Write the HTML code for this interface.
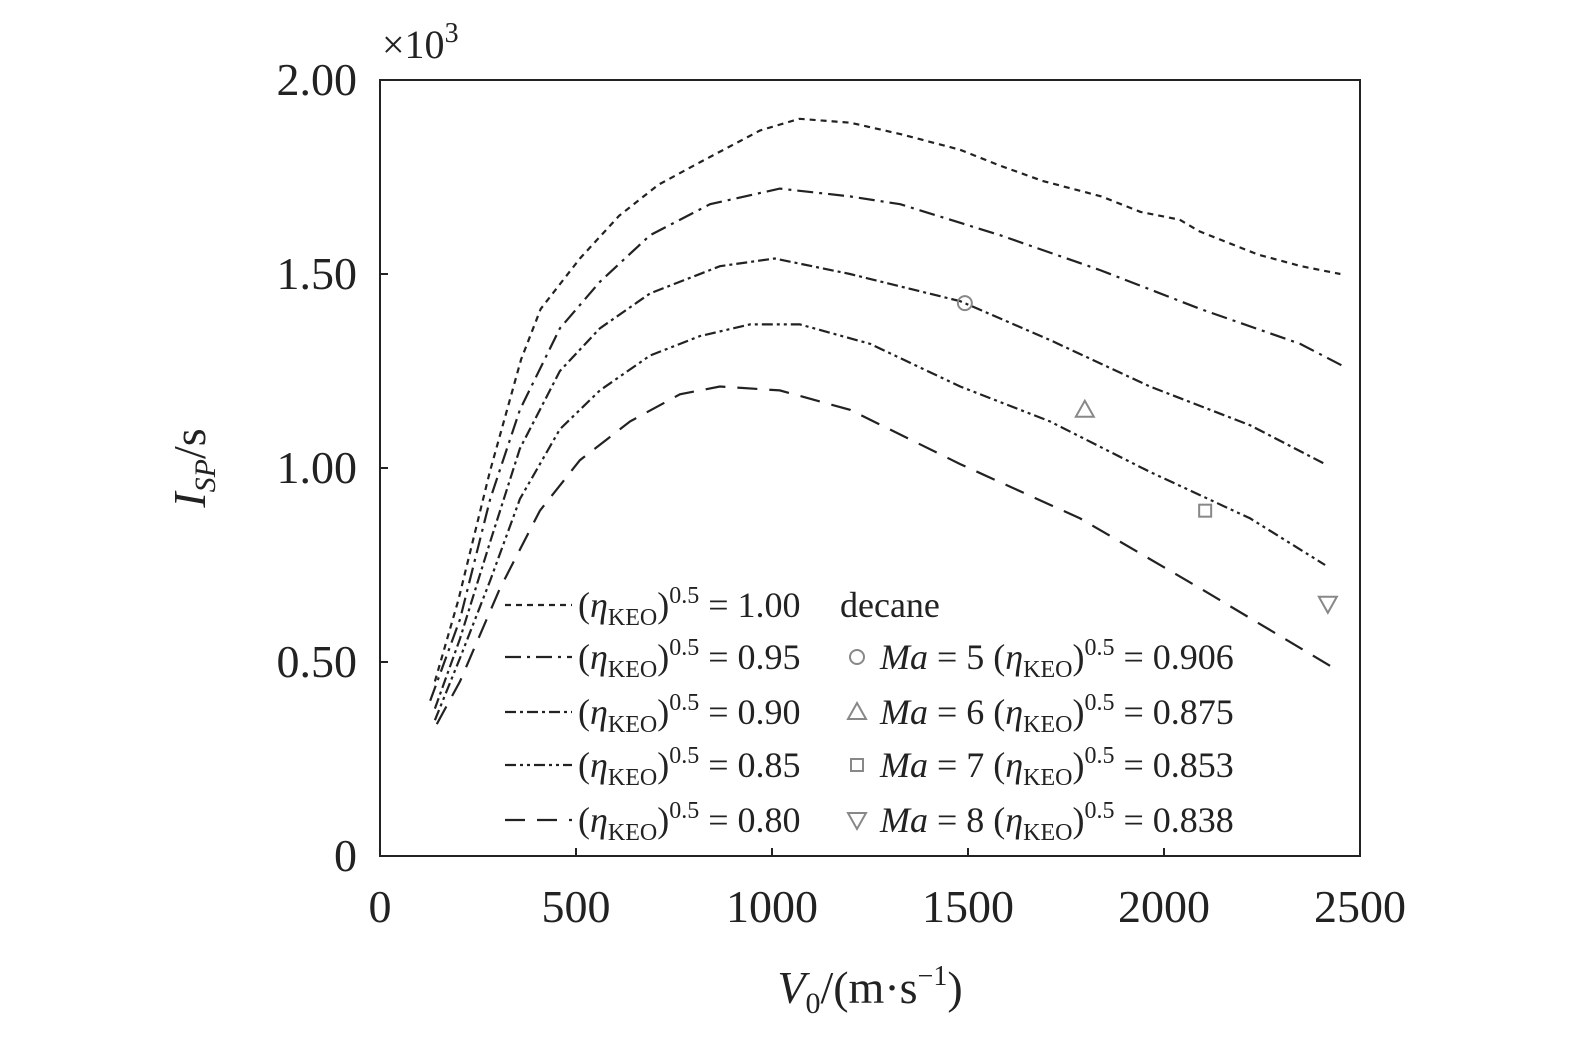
<!DOCTYPE html>
<html><head><meta charset="utf-8"><style>
html,body{margin:0;padding:0;background:#fff;}
svg{display:block;font-family:"Liberation Serif",serif;}
</style></head><body>
<svg id="chart" width="1575" height="1038" viewBox="0 0 1575 1038">
<rect x="380" y="80" width="980" height="776" fill="none" stroke="#222" stroke-width="2"/>
<g id="axes"></g>
<g id="series"></g>
<g id="markers"></g>
<text x="382" y="58" font-size="40" fill="#222">×10<tspan font-size="28" dy="-16">3</tspan></text>
<text transform="translate(205,468) rotate(-90)" text-anchor="middle" font-size="46" fill="#222"><tspan font-style="italic">I</tspan><tspan font-style="italic" font-size="30" dy="10">SP</tspan><tspan dy="-10">/s</tspan></text>
<text x="870" y="1003" text-anchor="middle" font-size="46" fill="#222"><tspan font-style="italic">V</tspan><tspan font-size="30" dy="10">0</tspan><tspan dy="-10">/(m·s</tspan><tspan font-size="28" dy="-18">−1</tspan><tspan dy="18">)</tspan></text>
<g id="legend"></g>
</svg>
<script>
const xTicks=[0,500,1000,1500,2000,2500];
const yTicks=[0,0.5,1.0,1.5,2.0];
const yTickLabels=["0","0.50","1.00","1.50","2.00"];
const c100x=[140,200,280,360,410,510,610,710,820,970,1070,1200,1330,1480,1580,1690,1840,1940,2040,2090,2240,2350,2450];
const c100y=[0.45,0.66,0.99,1.28,1.41,1.54,1.65,1.73,1.79,1.87,1.90,1.89,1.86,1.82,1.78,1.74,1.70,1.66,1.64,1.61,1.55,1.52,1.50];
const c095x=[128,204,281,357,459,561,689,842,1020,1199,1327,1582,1837,2092,2347,2462];
const c095y=[0.40,0.61,0.92,1.15,1.36,1.48,1.60,1.68,1.72,1.70,1.68,1.60,1.51,1.41,1.32,1.26];
const c090x=[140,204,281,357,459,561,689,867,1007,1199,1480,1709,1964,2220,2411];
const c090y=[0.38,0.56,0.81,1.05,1.25,1.36,1.45,1.52,1.54,1.50,1.43,1.33,1.21,1.11,1.01];
const c085x=[140,204,281,357,459,561,689,816,944,1071,1250,1480,1709,1964,2220,2411];
const c085y=[0.35,0.51,0.71,0.92,1.10,1.20,1.29,1.34,1.37,1.37,1.32,1.21,1.12,0.99,0.87,0.75];
const c080x=[145,204,306,408,510,638,765,867,1020,1199,1480,1786,2092,2424];
const c080y=[0.34,0.45,0.69,0.89,1.02,1.12,1.19,1.21,1.20,1.15,1.01,0.87,0.69,0.49];
const markX=[1492,1798,2105,2418];
const markY=[1.425,1.15,0.89,0.65];
const NS="http://www.w3.org/2000/svg";
const X=v=>380+v*0.392;
const Y=v=>856-v*388;
function mk(tag,attrs,parent){const e=document.createElementNS(NS,tag);for(const k in attrs)e.setAttribute(k,attrs[k]);parent.appendChild(e);return e;}
const axes=document.getElementById('axes');
xTicks.forEach(t=>{
 const l=mk('line',{x1:X(t),x2:X(t),y1:856,y2:848,stroke:'#222','stroke-width':2},axes);
 
 
 const tx=mk('text',{x:X(t),y:922,'text-anchor':'middle','font-size':46,fill:'#222'},axes);
 tx.textContent=t;
 
 
});
yTicks.forEach((t,i)=>{
 const l=mk('line',{x1:380,x2:388,y1:Y(t),y2:Y(t),stroke:'#222','stroke-width':2},axes);
 
 
 const tx=mk('text',{x:357,y:Y(t)+15,'text-anchor':'end','font-size':46,fill:'#222'},axes);
 tx.textContent=yTickLabels[i];
 
 
});
const curves=[[c100x,c100y,'6 5','1.00'],[c095x,c095y,'16 6 3 6','0.95'],[c090x,c090y,'11 4 3 4','0.90'],[c085x,c085y,'11 4 3 4 3 4','0.85'],[c080x,c080y,'20 12','0.80']];
const sg=document.getElementById('series');
curves.forEach(c=>{
 const d=c[0].map((x,i)=>(i?'L':'M')+X(x).toFixed(1)+' '+Y(c[1][i]).toFixed(1)).join(' ');
 const p=mk('path',{d:d,fill:'none',stroke:'#222','stroke-width':2.2,'stroke-dasharray':c[2]},sg);
 
 
});
function markerShape(k,cx,cy,parent){
 const a={fill:'none',stroke:'#888','stroke-width':2};
 if(k===0)return mk('circle',Object.assign({cx:cx,cy:cy,r:7},a),parent);
 if(k===1)return mk('path',Object.assign({d:`M${cx} ${cy-9}L${cx+9} ${cy+7}L${cx-9} ${cy+7}Z`},a),parent);
 if(k===2)return mk('rect',Object.assign({x:cx-6,y:cy-6,width:12,height:12},a),parent);
 return mk('path',Object.assign({d:`M${cx-9} ${cy-7}L${cx+9} ${cy-7}L${cx} ${cy+9}Z`},a),parent);
}
const mg=document.getElementById('markers');
markX.forEach((x,i)=>{
 const m=markerShape(i,X(x),Y(markY[i]),mg);
 
 
});
const lg=document.getElementById('legend');
const rows=[605,657,712,765,820];
const maLab=['5','6','7','8'];
const etaLab=['0.906','0.875','0.853','0.838'];
curves.forEach((c,i)=>{
 const y=rows[i];
 const l=mk('line',{x1:505,x2:572,y1:y,y2:y,stroke:'#222','stroke-width':2.2,'stroke-dasharray':c[2]},lg);
 
 
 const t=mk('text',{x:578,y:y+12,'font-size':36,fill:'#222'},lg);
 t.innerHTML='(<tspan font-style="italic">η</tspan><tspan font-size="24" dy="8">KEO</tspan><tspan dy="-8">)</tspan><tspan font-size="24" dy="-14">0.5</tspan><tspan dy="14"> = '+c[3]+'</tspan>';
 
 
});
const dt=mk('text',{x:840,y:617,'font-size':36,fill:'#222'},lg);
dt.textContent='decane';


for(let i=0;i<4;i++){
 const y=rows[i+1];
 const m=markerShape(i,857,y,lg);
 
 
 const t=mk('text',{x:880,y:y+12,'font-size':36,fill:'#222'},lg);
 t.innerHTML='<tspan font-style="italic">Ma</tspan> = '+maLab[i]+' (<tspan font-style="italic">η</tspan><tspan font-size="24" dy="8">KEO</tspan><tspan dy="-8">)</tspan><tspan font-size="24" dy="-14">0.5</tspan><tspan dy="14"> = '+etaLab[i]+'</tspan>';
 
 
}
</script>
</body></html>
